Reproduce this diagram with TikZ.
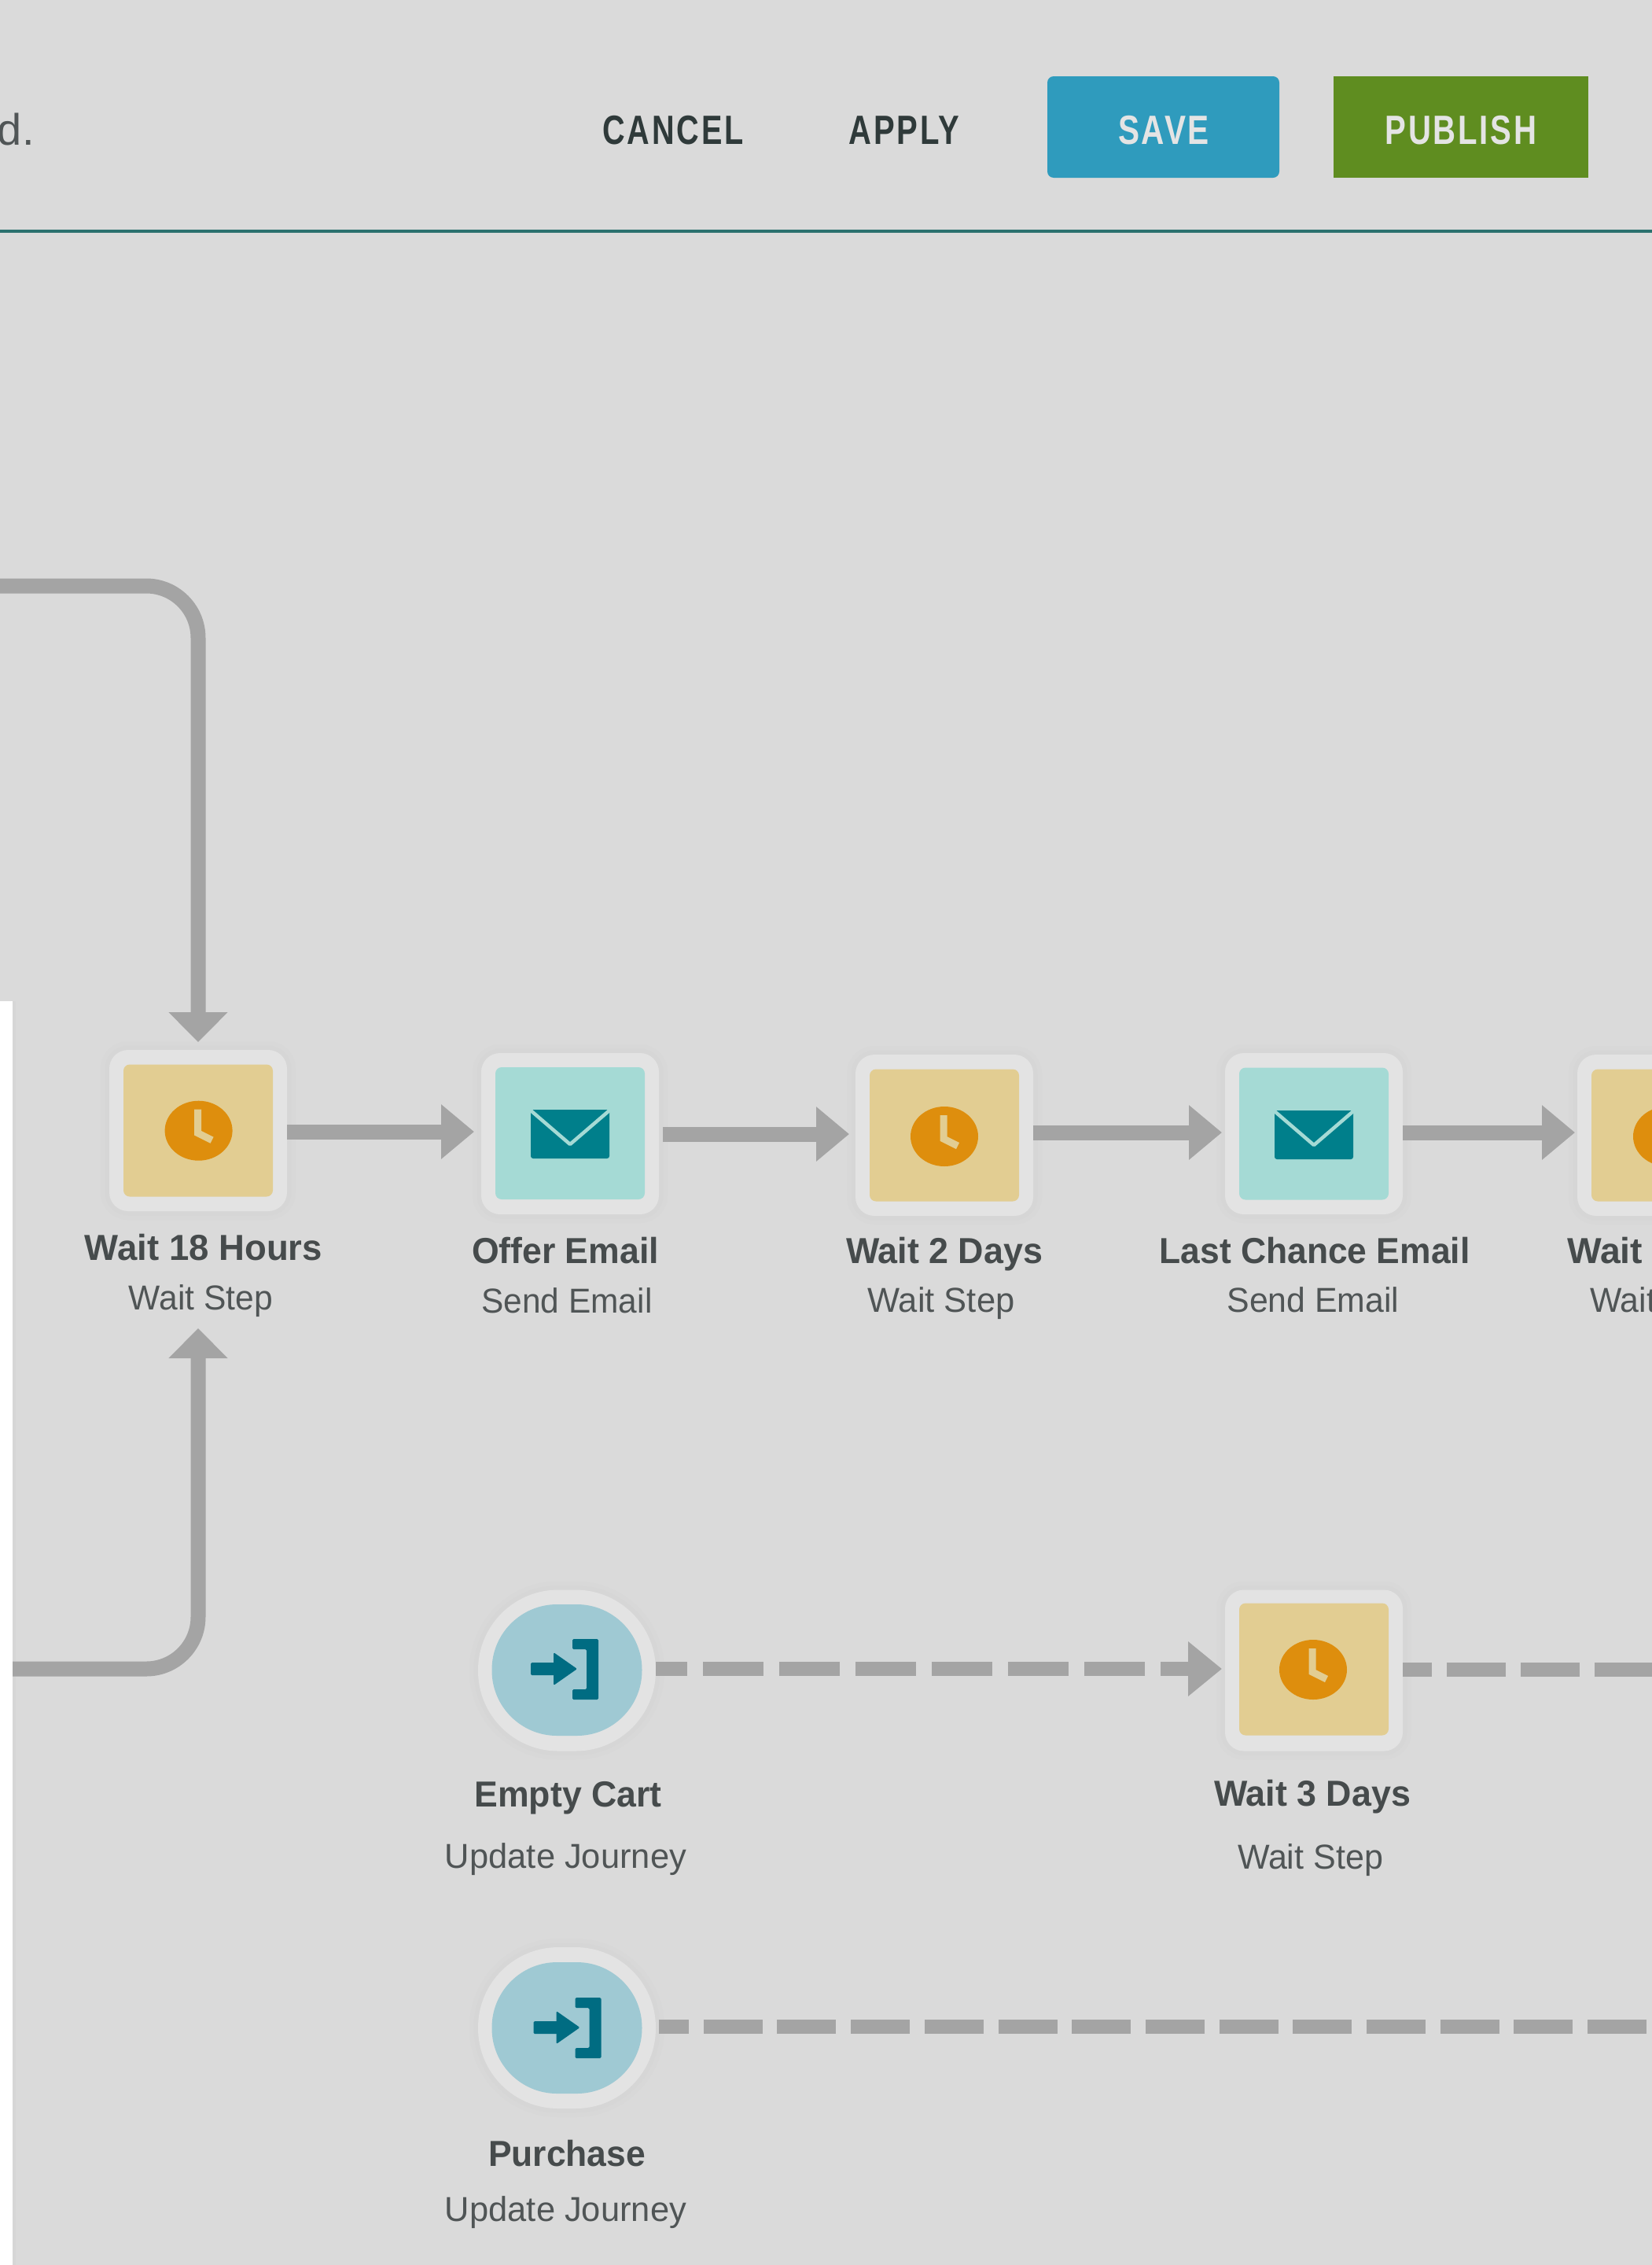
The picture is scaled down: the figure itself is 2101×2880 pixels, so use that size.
\documentclass[tikz,border=0pt]{standalone}
\usepackage{fontspec}
\usepackage{graphicx}
\setmainfont{Liberation Sans}
\usetikzlibrary{arrows.meta,shapes.geometric}
\definecolor{bgc}{HTML}{DADADA}
\definecolor{outerc}{HTML}{E3E3E3}
\definecolor{haloa}{HTML}{D8D8D8}
\definecolor{halob}{HTML}{D6D6D6}
\definecolor{edgec}{HTML}{D6D6D6}
\definecolor{waitc}{HTML}{E2CD92}
\definecolor{clockc}{HTML}{DE8E0D}
\definecolor{sendc}{HTML}{A5DAD5}
\definecolor{envc}{HTML}{007F8B}
\definecolor{updc}{HTML}{9FC9D3}
\definecolor{updiconc}{HTML}{006C82}
\definecolor{linkc}{HTML}{A4A4A4}
\definecolor{txta}{HTML}{464B4C}
\definecolor{txtb}{HTML}{505556}
\definecolor{hdrc}{HTML}{2F3A3A}
\definecolor{savec}{HTML}{2F9BBD}
\definecolor{pubc}{HTML}{5F8D20}
\definecolor{rulec}{HTML}{2B716E}
\definecolor{btnt}{HTML}{E4E4E4}
\newcommand{\fitw}[2]{\resizebox{#1pt}{\height}{#2}}
\newcommand{\flowlink}[4]{\draw[flow,shorten >=#4pt] ([yshift=#3pt]#1.east) -- ([yshift=#3pt]#1.east -| #2.west);}
\tikzset{
  x=1pt,y=-1pt,
  halo/.style={preaction={draw=haloa,line width=22pt},preaction={draw=halob,line width=11pt}},
  tile/.style={rectangle,rounded corners=24pt,fill=outerc,halo,minimum width=226pt,minimum height=205pt,inner sep=0,outer sep=0},
  oval/.style={rectangle,rounded corners=102pt,fill=outerc,halo,minimum width=226pt,minimum height=205pt,inner sep=0,outer sep=0},
  waitface/.style={rectangle,rounded corners=8pt,fill=waitc,minimum width=190pt,minimum height=168pt,inner sep=0,outer sep=0},
  sendface/.style={rectangle,rounded corners=8pt,fill=sendc,minimum width=190pt,minimum height=168pt,inner sep=0,outer sep=0},
  updface/.style={rectangle,rounded corners=83pt,fill=updc,minimum width=191pt,minimum height=167pt,inner sep=0,outer sep=0},
  flow/.style={draw=linkc,line width=19pt,-{Triangle[length=42pt,width=67pt]}},
  vflow/.style={draw=linkc,line width=19pt,rounded corners=66pt,-{Triangle[length=38pt,width=73pt]}},
  dashflow/.style={draw=linkc,line width=18pt},
  titletext/.style={anchor=base,inner sep=0,outer sep=0,text=txta,font=\fontsize{46}{46}\selectfont\bfseries},
  subtext/.style={anchor=base,inner sep=0,outer sep=0,text=txtb,font=\fontsize{44}{44}\selectfont},
  hdrtext/.style={anchor=base,inner sep=0,outer sep=0,text=hdrc,font=\fontsize{52}{52}\selectfont\bfseries\addfontfeature{LetterSpace=7}},
  btntext/.style={anchor=base,inner sep=0,outer sep=0,text=btnt,font=\fontsize{52}{52}\selectfont\bfseries\addfontfeature{LetterSpace=7}},
  clockicon/.pic={
    \fill[clockc] (0,0) ellipse [x radius=43pt,y radius=38pt];
    \draw[waitc,line width=9pt,line join=miter] (-1,-27) -- (-1,3) -- (17,12);
  },
  envicon/.pic={
    \fill[envc,rounded corners=3pt] (-50,-31) rectangle (50,31);
    \draw[sendc,line width=4.5pt,line join=round] (-50,-30) -- (0,13) -- (50,-30);
  },
  updicon/.pic={
    \fill[updiconc,rounded corners=1.5pt] (-46,-10) rectangle (-14,6);
    \fill[updiconc,rounded corners=1.5pt] (-17,-23) -- (13,-2) -- (-17,19) -- cycle;
    \fill[updiconc,rounded corners=1.5pt] (7,-40) -- (40,-40) -- (40,37) -- (7,37) -- (7,24) -- (25,24) -- (25,-27) -- (7,-27) -- cycle;
  }
}
\begin{document}
\begin{tikzpicture}
\useasboundingbox (0,0) rectangle (2101,2880);
\clip (0,0) rectangle (2101,2880);
\fill[bgc] (0,0) rectangle (2101,2880);
% left page strip
\fill[white] (0,1273) rectangle (16,2880);
\fill[edgec] (16,1273) rectangle (20,2880);
% header
\node[subtext,anchor=base west,font=\fontsize{56}{56}\selectfont] (hd) at (-3,184) {d.};
\node[hdrtext] (cancel) at (856,183) {\fitw{179}{CANCEL}};
\node[hdrtext] (apply) at (1150,183) {\fitw{141}{APPLY}};
\fill[savec,rounded corners=8pt] (1332,97) rectangle (1627,226);
\fill[pubc] (1696,97) rectangle (2020,226);
\node[btntext] (save) at (1480,183) {\fitw{116}{SAVE}};
\node[btntext] (publish) at (1858,183) {\fitw{193}{PUBLISH}};
\fill[rulec] (0,292) rectangle (2101,296);
% free ends
\coordinate (topstart) at (-30,745);
\coordinate (botstart) at (16,2122);
\coordinate (waitend) at (2130,2123);
\coordinate (purchend) at (2130,2577);
% nodes
\node[tile] (wait18) at (252,1437.5) {};
\node[waitface] (wait18f) at (252,1437.5) {};
\node[tile] (offer) at (725,1441.5) {};
\node[sendface] (offerf) at (725,1441) {};
\node[tile] (wait2) at (1201,1443.5) {};
\node[waitface] (wait2f) at (1201,1443.5) {};
\node[tile] (last) at (1671,1441.5) {};
\node[sendface] (lastf) at (1671,1441.5) {};
\node[tile] (waitx) at (2119,1443.5) {};
\node[waitface] (waitxf) at (2119,1443.5) {};
\node[oval] (empty) at (721,2124) {};
\node[updface] (emptyf) at (721,2123.5) {};
\node[tile] (wait3) at (1671,2124) {};
\node[waitface] (wait3f) at (1671,2122.5) {};
\node[oval] (purch) at (721,2578.5) {};
\node[updface] (purchf) at (721,2578.5) {};
% icons
\pic at (252.6,1437.7) {clockicon};
\pic at (725,1442) {envicon};
\pic at (1201,1445) {clockicon};
\pic at (1671,1443) {envicon};
\pic at (2120,1445) {clockicon};
\pic at (1670,2123) {clockicon};
\pic at (721,2124) {updicon};
\pic at (724.5,2580) {updicon};
% connectors
\draw[vflow,shorten >=10pt] (topstart) -| (wait18.north);
\draw[vflow,shorten >=149pt] (botstart) -| (wait18.south);
\flowlink{wait18}{offer}{-1.5}{9}
\draw[flow,shorten <=5pt,shorten >=8pt] ([yshift=-0.5pt]offer.east) -- ([yshift=-0.5pt]offer.east -| wait2.west);
\flowlink{wait2}{last}{3.5}{4}
\flowlink{last}{waitx}{1.5}{3}
\draw[dashflow,dash pattern=on 77pt off 20pt,dash phase=37pt,-{Triangle[length=43pt,width=67pt]},shorten >=4pt] ([yshift=2pt]empty.east) -- ([yshift=2pt]empty.east -| wait3.west);
\draw[dashflow,dash pattern=on 75pt off 19pt,dash phase=38pt] ([yshift=1pt]wait3.east) -- (waitend);
\draw[dashflow,dash pattern=on 75pt off 18.7pt,dash phase=37pt,shorten <=4pt] ([yshift=1.5pt]purch.east) -- (purchend);
% labels
\node[titletext] (t1) at (259,1602) {\fitw{302}{Wait 18 Hours}};
\node[subtext] (s1) at (255.5,1665) {\fitw{183}{Wait Step}};
\node[titletext] (t2) at (719,1606) {\fitw{238}{Offer Email}};
\node[subtext] (s2) at (721,1669) {\fitw{217}{Send Email}};
\node[titletext] (t3) at (1201,1606) {\fitw{250}{Wait 2 Days}};
\node[subtext] (s3) at (1197,1668) {\fitw{187}{Wait Step}};
\node[titletext] (t4) at (1672,1606) {\fitw{395}{Last Chance Email}};
\node[subtext] (s4) at (1670,1668) {\fitw{219}{Send Email}};
\node[titletext,anchor=base west] (t5) at (1993,1606) {\fitw{96}{Wait}};
\node[subtext,anchor=base west] (s5) at (2022,1668) {\fitw{84}{Wait}};
\node[titletext] (t6) at (722.5,2297) {\fitw{238}{Empty Cart}};
\node[subtext] (s6) at (719.5,2375) {\fitw{307}{Update Journey}};
\node[titletext] (t7) at (1669,2296) {\fitw{250}{Wait 3 Days}};
\node[subtext] (s7) at (1666.5,2376) {\fitw{185}{Wait Step}};
\node[titletext] (t8) at (721,2754) {\fitw{200}{Purchase}};
\node[subtext] (s8) at (719.5,2824) {\fitw{307}{Update Journey}};
\end{tikzpicture}
\end{document}
